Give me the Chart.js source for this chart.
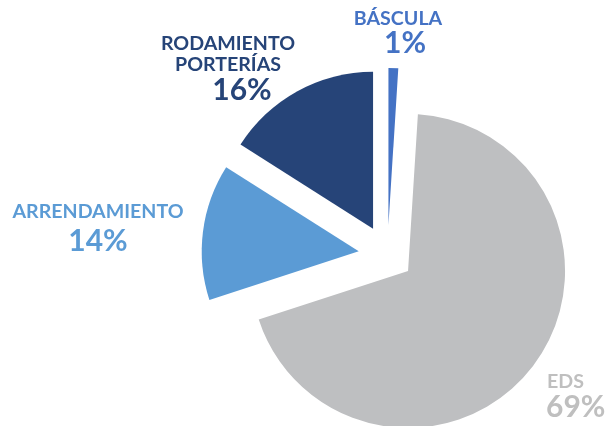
<!DOCTYPE html>
<html>
<head>
<meta charset="utf-8">
<script src="https://cdn.jsdelivr.net/npm/chart.js@4.4.0/dist/chart.umd.min.js"></script>
<style>
html,body{margin:0;padding:0;background:#fff;}
canvas{display:block;}
</style>
</head>
<body>
<canvas id="c" width="607" height="426"></canvas>
<script>
// Data
const categories = ["BÁSCULA", "EDS", "ARRENDAMIENTO", "RODAMIENTO PORTERÍAS"];
const values = [1, 69, 14, 16];
const labelLines = [["BÁSCULA"], ["EDS"], ["ARRENDAMIENTO"], ["RODAMIENTO", "PORTERÍAS"]];

// Styles / layout (not data)
const colors = ["#4472C4", "#BEBFC1", "#5B9BD5", "#264478"];
const labelColors = ["#4472C4", "#BFBFBF", "#5B9BD5", "#264478"];
const explode = [30, 26, 29, 30]; // px each slice is pulled out
const labelLayout = [
  {x: 398, ys: [25], py: 53, px: 405, align: "center"},
  {x: 547, ys: [388], py: 417, px: 546, align: "left"},
  {x: 98, ys: [218], py: 251, px: 98, align: "center"},
  {x: 228, ys: [50, 71], py: 100, px: 242, align: "center"}
];

// Arc element that pulls the whole wedge out by `offset` px (Excel-style explosion)
class ExplodedArc extends Chart.ArcElement {
  draw(ctx) {
    const o = this.options;
    const d = o.offset || 0;
    const mid = (this.startAngle + this.endAngle) / 2;
    const cx = this.x + Math.cos(mid) * d;
    const cy = this.y + Math.sin(mid) * d;
    ctx.save();
    ctx.fillStyle = o.backgroundColor;
    ctx.beginPath();
    ctx.moveTo(cx, cy);
    ctx.arc(cx, cy, this.outerRadius, this.startAngle, this.endAngle);
    ctx.closePath();
    ctx.fill();
    ctx.restore();
  }
}
ExplodedArc.id = "explodedArc";
ExplodedArc.defaults = Chart.ArcElement.defaults;

class ExplodedPie extends Chart.PieController {}
ExplodedPie.id = "explodedPie";
ExplodedPie.defaults = {...Chart.PieController.defaults, dataElementType: "explodedArc"};
ExplodedPie.overrides = Chart.PieController.overrides;
Chart.register(ExplodedArc, ExplodedPie);

const totalV = values.reduce((a, b) => a + b, 0);

const labelPlugin = {
  id: "sliceLabels",
  afterDatasetsDraw(chart) {
    const ctx = chart.ctx;
    ctx.save();
    values.forEach((v, i) => {
      const L = labelLayout[i];
      ctx.fillStyle = labelColors[i];
      ctx.textAlign = L.align;
      ctx.textBaseline = "alphabetic";
      ctx.font = "bold 19.6px Lato";
      labelLines[i].forEach((t, j) => ctx.fillText(t, L.x, L.ys[j]));
      ctx.font = "bold 30px Lato";
      ctx.fillText(Math.round(v / totalV * 100) + "%", L.px, L.py);
    });
    ctx.restore();
  }
};

new Chart(document.getElementById("c"), {
  type: "explodedPie",
  data: {
    labels: categories,
    datasets: [{
      data: values,
      backgroundColor: colors,
      borderWidth: 0,
      offset: explode,
      hoverOffset: 0,
      clip: false
    }]
  },
  options: {
    responsive: false,
    animation: false,
    radius: 157,
    rotation: 0,
    layout: {padding: {left: 168, right: 0, top: 84, bottom: 0}},
    plugins: {legend: {display: false}, tooltip: {enabled: false}}
  },
  plugins: [labelPlugin]
});
</script>
</body>
</html>
